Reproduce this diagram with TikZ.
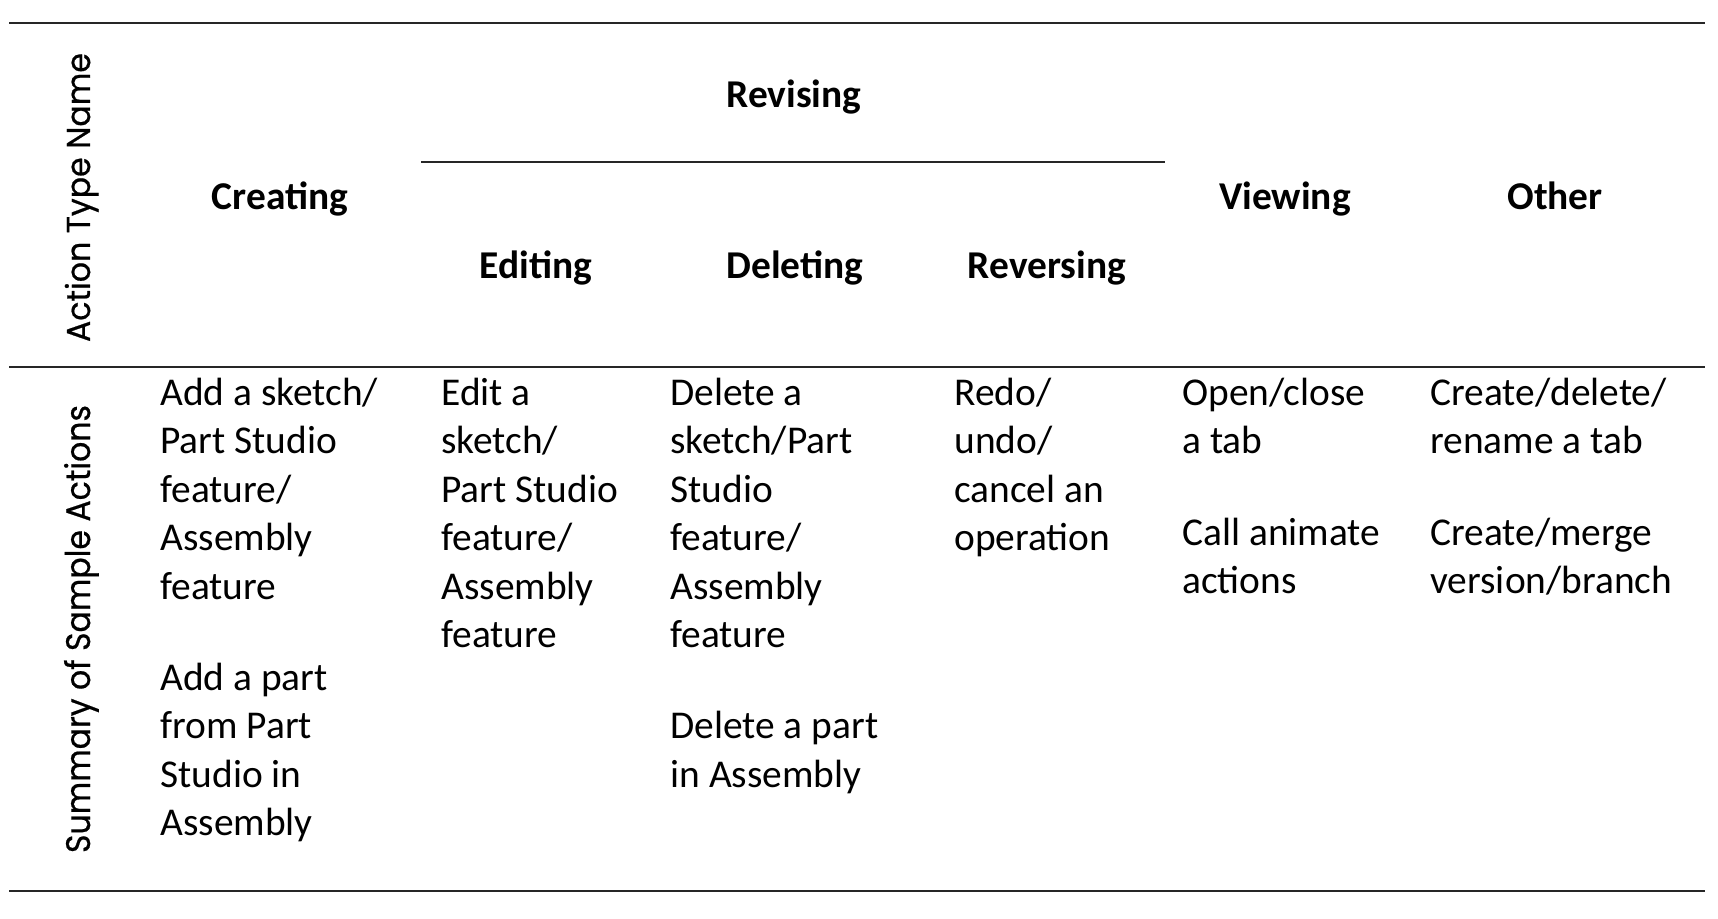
\documentclass[tikz,border=0pt]{standalone}
\usepackage{fontspec}
\setmainfont{Carlito}
\newfontfamily\gothic[FakeBold=0.6]{Poppins}
\newcommand{\bodyfnt}{\fontsize{19.7}{24}\selectfont}
\begin{document}
\begin{tikzpicture}[x=0.5pt,y=-0.5pt,
  rulel/.style={line width=1.1pt,draw=black!85},
  body/.style={inner sep=0pt,anchor=base west,font=\bodyfnt},
  head/.style={inner sep=0pt,anchor=base,font=\bodyfnt\bfseries},
  side/.style={inner sep=0pt,anchor=base,rotate=90}]
\useasboundingbox (0,0) rectangle (1718,918);
% rules
\coordinate (t1) at (9,22.7);   \coordinate (t2) at (1705,22.7);
\coordinate (r1) at (421,162);  \coordinate (r2) at (1165,162);
\coordinate (m1) at (9,367);    \coordinate (m2) at (1705,367);
\coordinate (b1) at (9,891);    \coordinate (b2) at (1705,891);
\draw[rulel] (t1) -- (t2);
\draw[rulel] (r1) -- (r2);
\draw[rulel] (m1) -- (m2);
\draw[rulel] (b1) -- (b2);
% side labels
\node[side] (s1) at (90,197.5) {\resizebox{144.5pt}{12.6pt}{\gothic Action Type Name}};
\node[side] (s2) at (90,629) {\resizebox{224pt}{13pt}{\gothic Summary of Sample Actions}};
% headers
\node[head] (hrev) at (794,107) {Revising};
\node[head] (hcre) at (280,209) {Creating};
\node[head] (hvie) at (1285,209) {Viewing};
\node[head] (hoth) at (1555,209) {Other};
\node[head] (hedi) at (536,278) {Editing};
\node[head] (hdel) at (795,278) {Deleting};
\node[head] (hrvs) at (1047,278) {Reversing};
% body
\foreach \t [count=\i] in {Add a sketch/,Part Studio,feature/,Assembly,feature}
  \node[body] (ca\i) at (160,405+48.5*\i-48.5) {\t};
\foreach \t [count=\i] in {Add a part,from Part,Studio in,Assembly}
  \node[body] (cb\i) at (160,690+48.5*\i-48.5) {\t};
\foreach \t [count=\i] in {Edit a,sketch/,Part Studio,feature/,Assembly,feature}
  \node[body] (ea\i) at (441,405+48.5*\i-48.5) {\t};
\foreach \t [count=\i] in {Delete a,sketch/Part,Studio,feature/,Assembly,feature}
  \node[body] (da\i) at (670,405+48.5*\i-48.5) {\t};
\foreach \t [count=\i] in {Delete a part,in Assembly}
  \node[body] (db\i) at (670,738.5+48.5*\i-48.5) {\t};
\foreach \t [count=\i] in {Redo/,undo/,cancel an,operation}
  \node[body] (ra\i) at (954,405+48.5*\i-48.5) {\t};
\foreach \t [count=\i] in {Open/close,a tab}
  \node[body] (va\i) at (1182,405+48.5*\i-48.5) {\t};
\foreach \t [count=\i] in {Call animate,actions}
  \node[body] (vb\i) at (1182,545+48.5*\i-48.5) {\t};
\foreach \t [count=\i] in {Create/delete/,rename a tab}
  \node[body] (oa\i) at (1430,405+48.5*\i-48.5) {\t};
\foreach \t [count=\i] in {Create/merge,version/branch}
  \node[body] (ob\i) at (1430,545+48.5*\i-48.5) {\t};
\end{tikzpicture}
\end{document}
